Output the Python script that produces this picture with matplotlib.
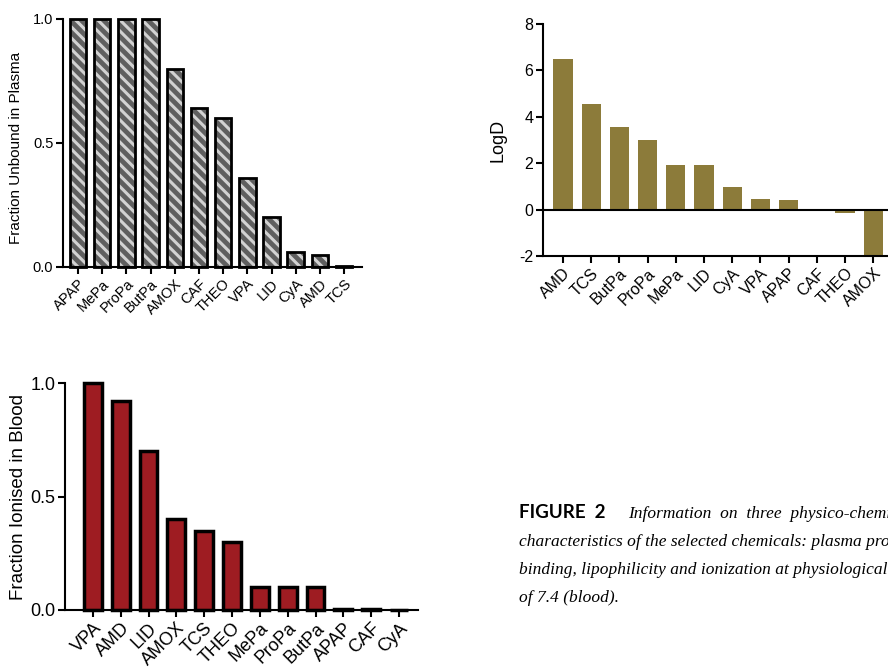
import matplotlib
matplotlib.use('Agg')
import matplotlib.pyplot as plt

plt.rcParams['font.family'] = ['Liberation Sans', 'DejaVu Sans']
plt.rcParams['hatch.linewidth'] = 2.2
plt.rcParams['axes.unicode_minus'] = False

# Panel A: fraction unbound in plasma
fu_names = ['APAP', 'MePa', 'ProPa', 'ButPa', 'AMOX', 'CAF', 'THEO', 'VPA', 'LID', 'CyA', 'AMD', 'TCS']
fu_values = [1.0, 1.0, 1.0, 1.0, 0.80, 0.64, 0.60, 0.36, 0.20, 0.06, 0.05, 0.005]

# Panel B: LogD
logd_names = ['AMD', 'TCS', 'ButPa', 'ProPa', 'MePa', 'LID', 'CyA', 'VPA', 'APAP', 'CAF', 'THEO', 'AMOX']
logd_values = [6.5, 4.55, 3.55, 3.02, 1.94, 1.91, 0.97, 0.46, 0.43, -0.07, -0.15, -2.0]

# Panel C: fraction ionised in blood
ion_names = ['VPA', 'AMD', 'LID', 'AMOX', 'TCS', 'THEO', 'MePa', 'ProPa', 'ButPa', 'APAP', 'CAF', 'CyA']
ion_values = [1.0, 0.92, 0.70, 0.40, 0.35, 0.30, 0.10, 0.10, 0.10, 0.005, 0.005, 0.0]

W, H = 888, 667
fig = plt.figure(figsize=(W / 100, H / 100), dpi=100)


def px_axes(left, right, top, bottom):
    return fig.add_axes([left / W, (H - bottom) / H, (right - left) / W, (bottom - top) / H])


def style(ax, fs, lw=1.5):
    for s in ['top', 'right']:
        ax.spines[s].set_visible(False)
    for s in ['left', 'bottom']:
        ax.spines[s].set_linewidth(lw)
    ax.tick_params(width=lw, length=5, labelsize=fs, pad=2)


# --- Panel A ---
ax1 = px_axes(63, 362, 19, 267)
x1 = range(len(fu_names))
ax1.bar(x1, fu_values, width=0.68, color='#5f5f5f', edgecolor='#d2d2d2',
        hatch='\\\\\\', linewidth=0, clip_on=False)
ax1.bar(x1, fu_values, width=0.68, fill=False, edgecolor='black',
        linewidth=2, clip_on=False)
ax1.set_xlim(-0.62, 11.74)
ax1.set_ylim(0, 1)
ax1.set_yticks([0, 0.5, 1.0])
ax1.set_yticklabels(['0.0', '0.5', '1.0'])
ax1.set_xticks(list(x1))
ax1.set_xticklabels(fu_names, rotation=45, ha='right', rotation_mode='anchor')
ax1.set_ylabel('Fraction Unbound in Plasma', fontsize=11)
ax1.yaxis.set_label_coords(-0.134, 0.48)
style(ax1, 10.5)

# --- Panel B ---
ax2 = px_axes(543, 893, 24, 256)
x2 = range(len(logd_names))
ax2.bar(x2, logd_values, width=0.68, color='#8c7b3a', linewidth=0)
ax2.axhline(0, color='black', linewidth=1.5)
ax2.set_xlim(-0.71, 11.7)
ax2.set_ylim(-2, 8)
ax2.set_yticks([-2, 0, 2, 4, 6, 8])
ax2.set_xticks(list(x2))
ax2.set_xticklabels(logd_names, rotation=45, ha='right', rotation_mode='anchor')
ax2.set_ylabel('LogD', fontsize=13)
ax2.yaxis.set_label_coords(-0.103, 0.5)
style(ax2, 11.5)

# --- Panel C ---
ax3 = px_axes(65, 418, 383, 610)
x3 = range(len(ion_names))
ax3.bar(x3, ion_values, width=0.64, color='#9e1c22', edgecolor='black',
        linewidth=2.5, clip_on=False)
ax3.set_xlim(-1.0, 11.68)
ax3.set_ylim(0, 1)
ax3.set_yticks([0, 0.5, 1.0])
ax3.set_yticklabels(['0.0', '0.5', '1.0'])
ax3.set_xticks(list(x3))
ax3.set_xticklabels(ion_names, rotation=45, ha='right', rotation_mode='anchor')
ax3.set_ylabel('Fraction Ionised in Blood', fontsize=13.5)
ax3.yaxis.set_label_coords(-0.108, 0.5)
style(ax3, 13)

# --- Caption ---
fig.text(519 / W, 1 - 518 / H, 'FIGURE  2', fontsize=13.5, fontweight='bold',
         family=['Lato', 'DejaVu Sans'], va='baseline')
fig.text(628 / W, 1 - 518 / H, 'Information  on  three  physico-chemical',
         fontsize=12.5, style='italic', family=['Liberation Serif'], va='baseline')
caption_lines = ['characteristics of the selected chemicals: plasma protein',
                 'binding, lipophilicity and ionization at physiological pH',
                 'of 7.4 (blood).']
for i, line in enumerate(caption_lines):
    fig.text(519 / W, 1 - (546 + 28 * i) / H, line, fontsize=12.5, style='italic',
             family=['Liberation Serif'], va='baseline')

fig.savefig('out.png', dpi=100)
